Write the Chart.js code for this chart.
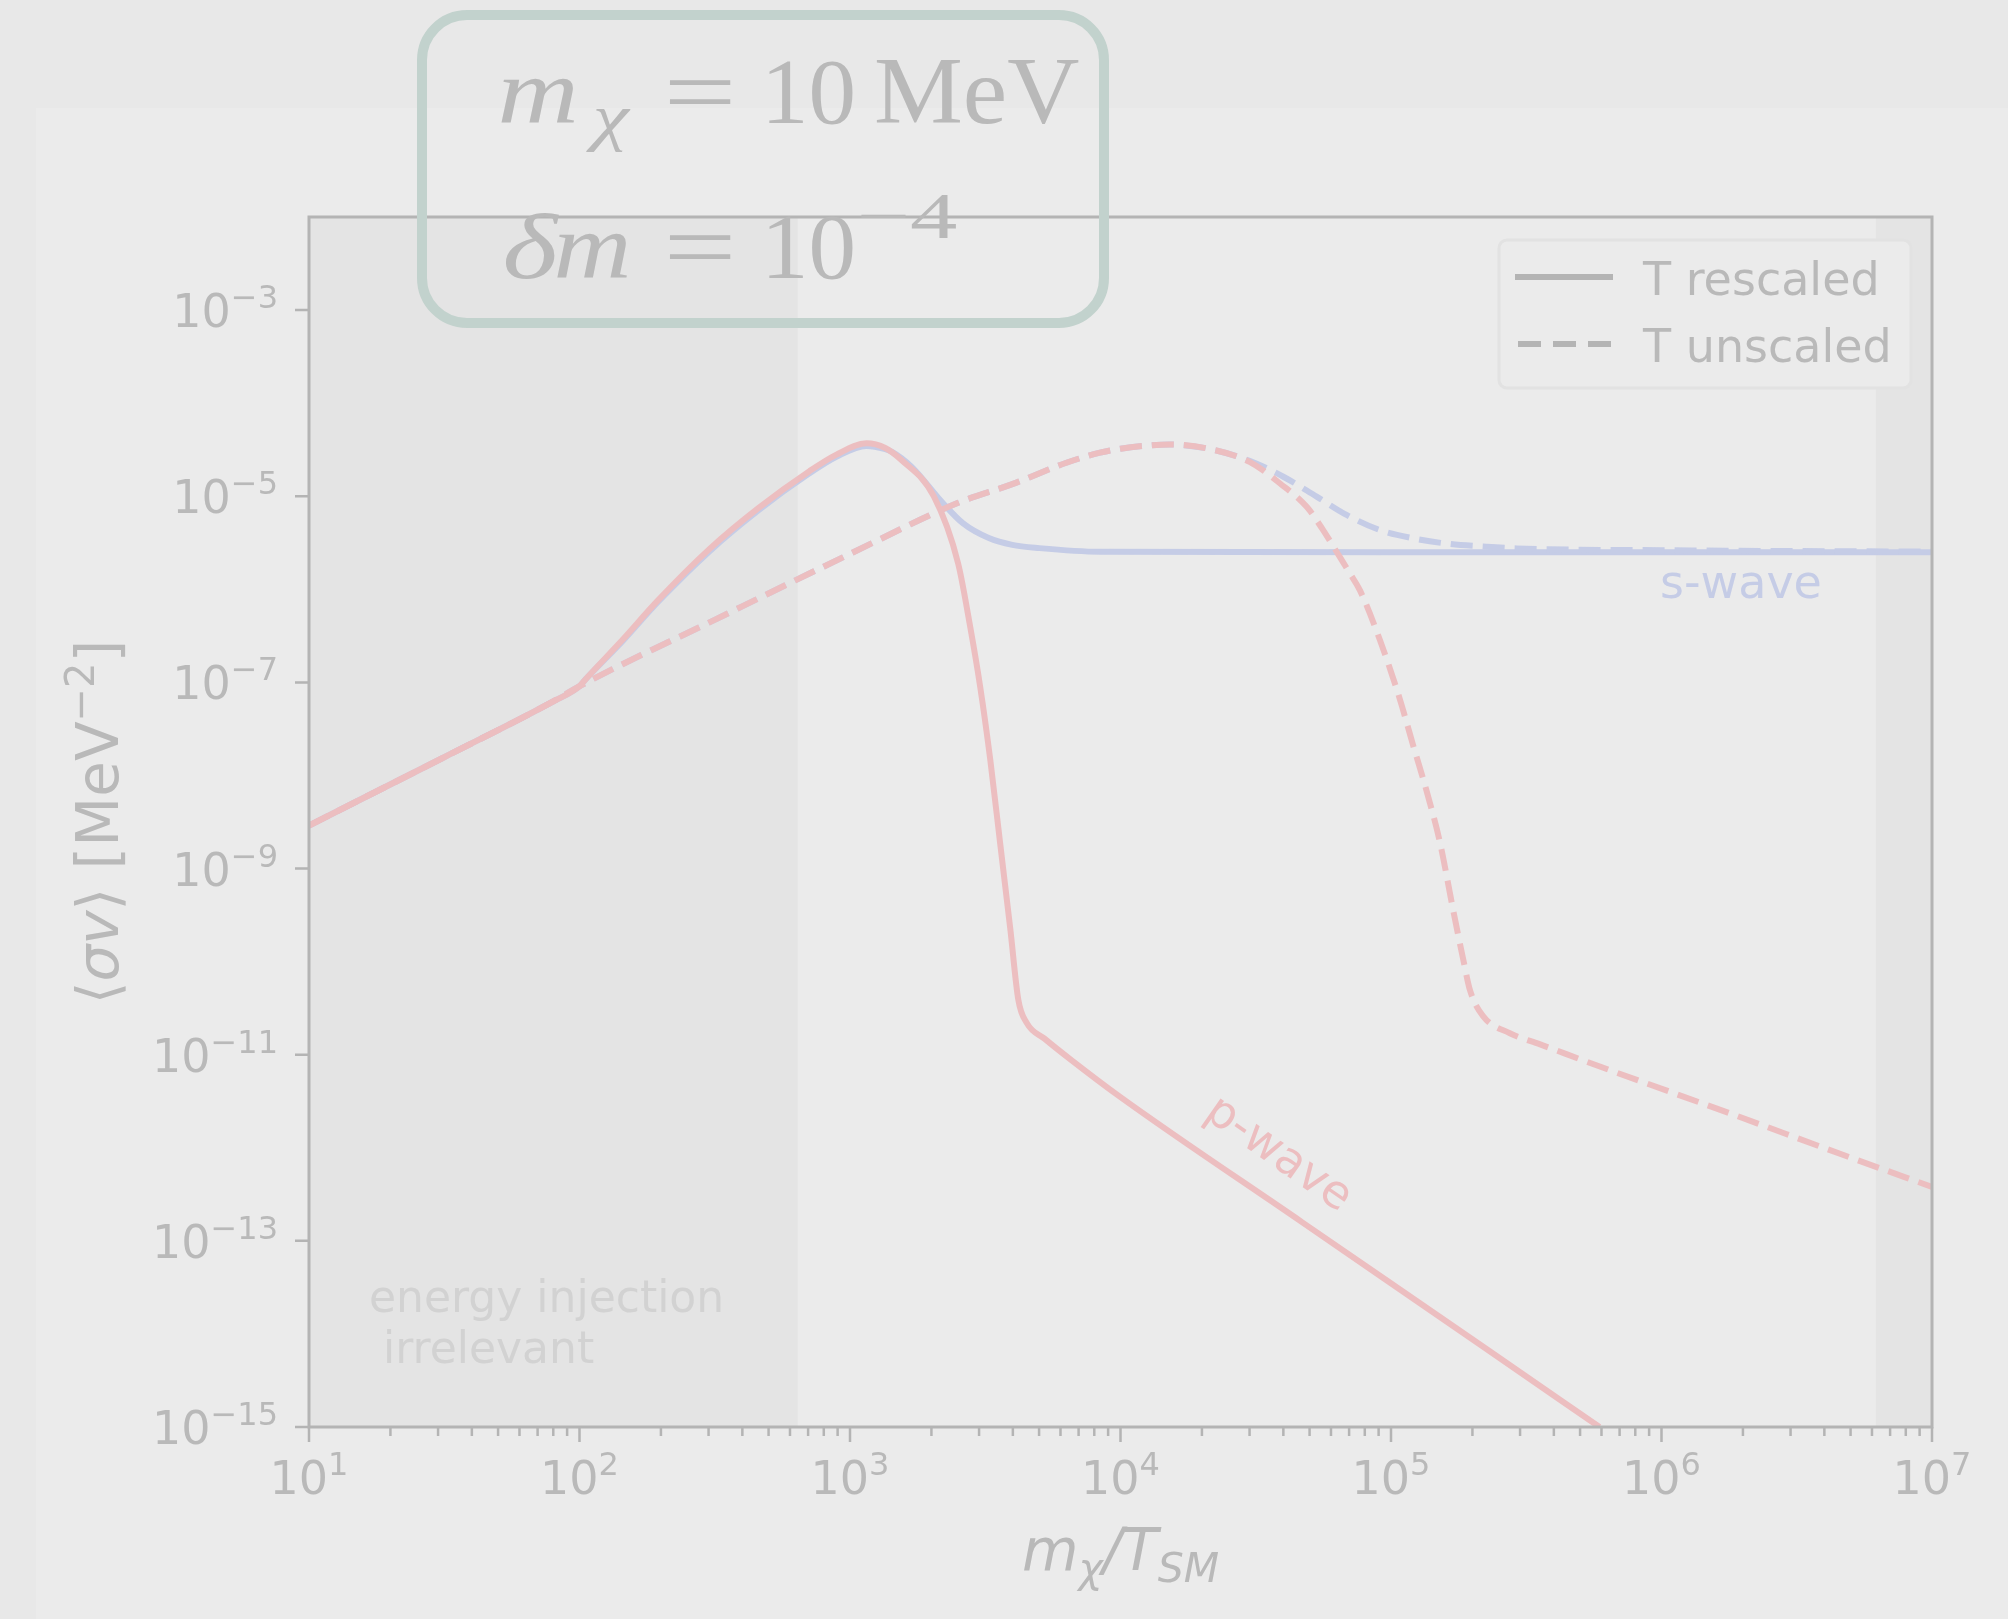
<!DOCTYPE html>
<html>
<head>
<meta charset="utf-8">
<script src="https://cdn.jsdelivr.net/npm/chart.js@4.4.0/dist/chart.umd.min.js"></script>
<style>
	html, body { margin: 0; padding: 0; background: #e8e8e8; }
	canvas { display: block; }
</style>
</head>
<body>
<canvas id="sigma-v" width="2008" height="1619"></canvas>
<script>
// p-wave, T rescaled (solid)
const pRescaledX = [10, 31.6, 80, 100, 105, 144, 195, 302, 457, 708, 891, 1150, 1350, 1550, 2040, 2510, 2780, 3030, 3300, 3590, 3910, 4190, 4500, 5250, 6600, 1.0e4, 4.7e4, 2.22e5, 5.9e5];
const pRescaledY = [2.9e-9, 1.57e-8, 6.25e-8, 9.1e-8, 1.07e-7, 2.85e-7, 7.6e-7, 2.7e-6, 7.4e-6, 1.86e-5, 2.8e-5, 3.7e-5, 3.3e-5, 2.45e-5, 1.0e-5, 1.9e-6, 4.0e-7, 8.9e-8, 1.48e-8, 1.86e-9, 2.3e-10, 3.9e-11, 2.2e-11, 1.48e-11, 8.7e-12, 3.5e-12, 1.58e-13, 7.1e-15, 1.0e-15];

// s-wave, T rescaled (solid)
const sRescaledX = [10, 31.6, 80, 100, 105, 144, 195, 302, 457, 708, 891, 1150, 1350, 1430, 1690, 2200, 2620, 3260, 3980, 5010, 8400, 1e5, 1e7];
const sRescaledY = [2.9e-9, 1.57e-8, 6.25e-8, 9.1e-8, 1.07e-7, 2.75e-7, 7.3e-7, 2.55e-6, 7.0e-6, 1.76e-5, 2.65e-5, 3.47e-5, 3.2e-5, 3.0e-5, 2.07e-5, 8.5e-6, 5.1e-6, 3.55e-6, 3.0e-6, 2.77e-6, 2.53e-6, 2.5e-6, 2.5e-6];

// p-wave, T unscaled (dashed)
const pUnscaledX = [10, 31.6, 80, 100, 316, 1000, 2510, 3980, 6310, 8320, 1.0e4, 1.26e4, 1.52e4, 2.08e4, 3.0e4, 3.89e4, 4.88e4, 5.62e4, 6.31e4, 7.05e4, 7.67e4, 9.1e4, 1.08e5, 1.2e5, 1.36e5, 1.52e5, 1.7e5, 1.85e5, 1.96e5, 2.19e5, 2.75e5, 3.56e5, 6.2e5, 1.75e6, 4.9e6, 1e7];
const pUnscaledY = [2.9e-9, 1.57e-8, 6.25e-8, 9.1e-8, 4.7e-7, 2.4e-6, 8.5e-6, 1.35e-5, 2.29e-5, 2.92e-5, 3.24e-5, 3.5e-5, 3.59e-5, 3.27e-5, 2.34e-5, 1.37e-5, 7.7e-6, 4.3e-6, 2.5e-6, 1.48e-6, 9.8e-7, 2.85e-7, 6.5e-8, 2.24e-8, 6.5e-9, 1.86e-9, 3.5e-10, 1.05e-10, 4.9e-11, 2.6e-11, 1.7e-11, 1.29e-11, 7.1e-12, 2.4e-12, 8.0e-13, 3.8e-13];

// s-wave, T unscaled (dashed)
const sUnscaledX = [10, 31.6, 80, 100, 316, 1000, 2510, 3980, 6310, 8320, 1.0e4, 1.26e4, 1.52e4, 2.08e4, 3.0e4, 4.0e4, 5.31e4, 6.85e4, 9.1e4, 1.21e5, 1.65e5, 2.26e5, 2.91e5, 1e6, 1e7];
const sUnscaledY = [2.9e-9, 1.57e-8, 6.25e-8, 9.1e-8, 4.7e-7, 2.4e-6, 8.5e-6, 1.35e-5, 2.29e-5, 2.92e-5, 3.24e-5, 3.5e-5, 3.59e-5, 3.27e-5, 2.4e-5, 1.62e-5, 9.9e-6, 6.3e-6, 4.33e-6, 3.53e-6, 3.07e-6, 2.87e-6, 2.75e-6, 2.63e-6, 2.54e-6];

const xTickValues = [1e1, 1e2, 1e3, 1e4, 1e5, 1e6, 1e7];
const xTickExps = ["1", "2", "3", "4", "5", "6", "7"];
const yTickValues = [1e-3, 1e-5, 1e-7, 1e-9, 1e-11, 1e-13, 1e-15];
const yTickExps = ["\u22123", "\u22125", "\u22127", "\u22129", "\u221211", "\u221213", "\u221215"];
const shadedRanges = [[10, 640], [6.2e6, 1e7]];
const legendLabels = ["T rescaled", "T unscaled"];

const RED = "#ecbec0";
const BLUE = "#c5cce6";
const AXIS = "#b4b4b4";
const TEXT = "#b9b9b9";
const SANS = "DejaVu Sans";
const SERIF = "Liberation Serif";

const toPoints = (xs, ys) => xs.map((x, i) => ({ x: x, y: ys[i] }));

// draw a row of text pieces: [text, font, dy]
const drawRuns = (c, runs, x, y, align) => {
	let total = 0;
	runs.forEach((r) => {
		c.font = r[1];
		total += c.measureText(r[0]).width;
	});
	let cx = align === "center" ? x - total / 2 : align === "right" ? x - total : x;
	runs.forEach((r) => {
		c.font = r[1];
		c.fillText(r[0], cx, y + (r[2] || 0));
		cx += c.measureText(r[0]).width;
	});
};

// squeeze/stretch a piece so its ink spans x0..x1
const fitText = (c, text, font, x0, x1, y) => {
	c.font = font;
	const m = c.measureText(text);
	const ink = m.actualBoundingBoxLeft + m.actualBoundingBoxRight;
	const sx = (x1 - x0) / ink;
	c.save();
	c.translate(x0, y);
	c.scale(sx, 1);
	c.fillText(text, m.actualBoundingBoxLeft, 0);
	c.restore();
};

const backdrop = {
	id: "backdrop",
	beforeDraw(chart) {
		const c = chart.ctx;
		const a = chart.chartArea;
		const xs = chart.scales.x;
		c.save();
		c.fillStyle = "#e8e8e8";
		c.fillRect(0, 0, chart.width, chart.height);
		c.fillStyle = "#ebebeb";
		c.fillRect(36, 108, chart.width - 36, chart.height - 108);
		c.fillStyle = "#e4e4e4";
		shadedRanges.forEach((r) => {
			const l = xs.getPixelForValue(r[0]);
			const rr = xs.getPixelForValue(r[1]);
			c.fillRect(l, a.top, rr - l, a.bottom - a.top);
		});
		c.restore();
	},
};

const decorations = {
	id: "decorations",
	afterDraw(chart) {
		const c = chart.ctx;
		const a = chart.chartArea;
		const xs = chart.scales.x;
		const ys = chart.scales.y;
		c.save();

		// frame
		c.strokeStyle = AXIS;
		c.lineWidth = 3;
		c.strokeRect(a.left, a.top, a.right - a.left, a.bottom - a.top);

		// x ticks
		c.lineWidth = 2.5;
		c.beginPath();
		for (let d = 1; d < 7; d++) {
			for (let m = 2; m <= 9; m++) {
				const px = xs.getPixelForValue(m * Math.pow(10, d));
				c.moveTo(px, a.bottom);
				c.lineTo(px, a.bottom + 9);
			}
		}
		xTickValues.forEach((v) => {
			const px = xs.getPixelForValue(v);
			c.moveTo(px, a.bottom);
			c.lineTo(px, a.bottom + 15);
		});
		yTickValues.forEach((v) => {
			const py = ys.getPixelForValue(v);
			c.moveTo(a.left, py);
			c.lineTo(a.left - 14, py);
		});
		c.stroke();

		// tick labels
		c.fillStyle = TEXT;
		c.textBaseline = "alphabetic";
		c.textAlign = "left";
		xTickValues.forEach((v, i) => {
			drawRuns(c, [["10", "46px " + SANS], [xTickExps[i], "32px " + SANS, -19]], xs.getPixelForValue(v), a.bottom + 67, "center");
		});
		yTickValues.forEach((v, i) => {
			drawRuns(c, [["10", "46px " + SANS], [yTickExps[i], "32px " + SANS, -19]], 278, ys.getPixelForValue(v) + 17, "right");
		});

		// axis titles
		drawRuns(
			c,
			[
				["m", "italic 58px " + SANS],
				["\u03c7", "italic 41px " + SANS, 12],
				["/T", "italic 58px " + SANS],
				["SM", "italic 41px " + SANS, 12],
			],
			(a.left + a.right) / 2,
			1570,
			"center",
		);
		c.save();
		c.translate(118, (a.top + a.bottom) / 2);
		c.rotate(-Math.PI / 2);
		drawRuns(
			c,
			[
				["\u27e8", "58px " + SANS],
				["\u03c3v", "italic 58px " + SANS],
				["\u27e9 [MeV", "58px " + SANS],
				["\u22122", "40px " + SANS, -24],
				["]", "58px " + SANS],
			],
			0,
			0,
			"center",
		);
		c.restore();

		// legend
		c.fillStyle = "#ebebeb";
		c.strokeStyle = "#e2e2e2";
		c.lineWidth = 3;
		c.beginPath();
		c.roundRect(1499, 240, 412, 148, 8);
		c.fill();
		c.stroke();
		c.strokeStyle = AXIS;
		c.lineWidth = 6;
		c.beginPath();
		c.moveTo(1515, 277);
		c.lineTo(1613, 277);
		c.stroke();
		c.setLineDash([23, 12]);
		c.beginPath();
		c.moveTo(1518, 344);
		c.lineTo(1613, 344);
		c.stroke();
		c.setLineDash([]);
		c.fillStyle = TEXT;
		c.font = "46px " + SANS;
		c.fillText(legendLabels[0], 1643, 295);
		c.fillText(legendLabels[1], 1643, 362);

		// curve labels
		c.fillStyle = BLUE;
		c.fillText("s-wave", 1660, 598);
		c.save();
		c.fillStyle = RED;
		c.translate(1278, 1155);
		c.rotate((35 * Math.PI) / 180);
		c.textAlign = "center";
		c.textBaseline = "middle";
		c.fillText("p-wave", 0, 0);
		c.restore();

		c.fillStyle = "#d2d2d2";
		c.font = "44px " + SANS;
		c.fillText("energy injection", 369, 1312);
		c.fillText(" irrelevant", 369, 1363);

		// parameter box
		c.strokeStyle = "#c2d2cd";
		c.lineWidth = 10;
		c.beginPath();
		c.roundRect(422, 15, 682, 308, 45);
		c.stroke();
		c.fillStyle = TEXT;
		fitText(c, "m", "italic 94px " + SERIF, 501, 574, 123);
		fitText(c, "\u03c7", "italic 64px " + SERIF, 585, 631, 138);
		fitText(c, "=", "94px " + SERIF, 669, 731, 123);
		fitText(c, "10", "94px " + SERIF, 769, 853, 123);
		fitText(c, "MeV", "96px " + SERIF, 876, 1079, 123);
		fitText(c, "\u03b4", "italic 94px " + SERIF, 505, 559, 278);
		fitText(c, "m", "italic 94px " + SERIF, 557, 627, 278);
		fitText(c, "=", "94px " + SERIF, 669, 731, 278);
		fitText(c, "10", "94px " + SERIF, 769, 853, 278);
		fitText(c, "\u22124", "66px " + SERIF, 861, 956, 238);

		c.restore();
	},
};

const lineSet = (label, xs, ys, color, dashed) => ({
	label: label,
	data: toPoints(xs, ys),
	borderColor: color,
	borderWidth: 6,
	borderDash: dashed ? [22, 10] : [],
	pointRadius: 0,
	fill: false,
	cubicInterpolationMode: "monotone",
	borderJoinStyle: "round",
});

const context = document.getElementById("sigma-v").getContext("2d");
const chart = new Chart(context, {
	type: "line",
	data: {
		datasets: [
			lineSet("p-wave unscaled", pUnscaledX, pUnscaledY, RED, true),
			lineSet("p-wave rescaled", pRescaledX, pRescaledY, RED, false),
			lineSet("s-wave unscaled", sUnscaledX, sUnscaledY, BLUE, true),
			lineSet("s-wave rescaled", sRescaledX, sRescaledY, BLUE, false),
		],
	},
	options: {
		responsive: false,
		animation: false,
		devicePixelRatio: 1,
		layout: { padding: { left: 0, top: 217, right: 76, bottom: 0 } },
		plugins: {
			legend: { display: false },
			tooltip: { enabled: false },
		},
		scales: {
			x: {
				type: "logarithmic",
				min: 10,
				max: 1e7,
				ticks: { display: false },
				grid: { display: false },
				border: { display: false },
				afterFit: (s) => {
					s.height = 192;
				},
			},
			y: {
				type: "logarithmic",
				min: 1e-15,
				max: 1e-2,
				ticks: { display: false },
				grid: { display: false },
				border: { display: false },
				afterFit: (s) => {
					s.width = 309;
				},
			},
		},
	},
	plugins: [backdrop, decorations],
});
</script>
</body>
</html>
